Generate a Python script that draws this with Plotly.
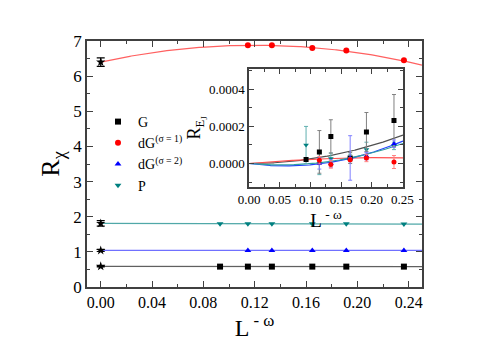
import numpy as np
import plotly.graph_objects as go

# ---------------- data ----------------
L_omega = [0.093, 0.1147, 0.1334, 0.1649, 0.1914, 0.2363]

G_main = [0.58, 0.58, 0.58, 0.58, 0.58, 0.58]
dG1_main = [6.88, 6.88, 6.80, 6.73, 6.45]          # at L_omega[1:]
dG2_main = [1.04, 1.04, 1.04, 1.04, 1.04]          # at L_omega[1:]
P_main = [1.80, 1.80, 1.80, 1.80, 1.80, 1.79]

# extrapolated values at L^-w = 0 (stars)
extrap_vals = [0.59, 6.40, 1.04, 1.81]
extrap_errs = [0.02, 0.12, 0.03, 0.08]

# fit coefficients (c0, c1, c2) of main curves
fit_G = [0.585, -0.02, 0.0]
fit_dG1 = [6.40, 8.0, -33.3]
fit_dG2 = [1.04, 0.0, 0.0]
fit_P = [1.81, -0.08, 0.0]

# inset
G_in = [0.0000214, 0.0000627, 0.000146, 0.00003, 0.00017, 0.000232]
G_in_err = [0.000005, 0.000115, 0.00009, 0.00003, 0.000105, 0.00014]
dG1_in = [0.000018, -0.000005, 0.00002, 0.00003, 0.000008]
dG1_in_err = [0.00002, 0.00002, 0.00001, 0.00002, 0.000035]
dG2_in = [0.0, 0.0, 0.00003, 0.00004, 0.000107]
dG2_in_err = [0.00003, 0.00002, 0.00012, 0.00002, 0.00002]
P_in = [0.0001, 0.0, 0.000027, 0.00003, 0.000075, 0.000095]
P_in_err = [0.0001, 0.00006, 0.00003, 0.00002, 0.00004, 0.00002]

fit_G_in = [0.0, 0.0, 0.00243]
fit_dG1_in = [0.0, 0.00029, -0.000664]
fit_dG2_in = [0.0, -0.000443, 0.00369]
fit_P_in = [0.0, -0.0003, 0.00291]

series_names = ["G", "dG<sup>(σ = 1)</sup>", "dG<sup>(σ = 2)</sup>", "P"]
colors = ["#000000", "#ff0000", "#0000ff", "#008080"]
line_colors = ["#606060", "#ff6060", "#7070ff", "#50a8a8"]
inset_line_colors = ["#505050", "#ff5050", "#2040ff", "#30a0a0"]
err_colors = ["#808080", "#ff8080", "#8080ff", "#60b0b0"]
symbols = ["square", "circle", "triangle-up", "triangle-down"]

FONT = "Liberation Serif, Times New Roman, serif"

fig = go.Figure()

xs_main = [L_omega, L_omega[1:], L_omega[1:], L_omega]
ys_main = [G_main, dG1_main, dG2_main, P_main]
fits_main = [fit_G, fit_dG1, fit_dG2, fit_P]
xx = np.linspace(0, 0.2504, 200)

# fit lines (main)
for i in range(4):
    c = fits_main[i]
    fig.add_trace(go.Scatter(x=xx, y=c[0] + c[1] * xx + c[2] * xx ** 2, mode="lines",
                             line=dict(color=line_colors[i], width=1.2),
                             showlegend=False, hoverinfo="skip"))
# data points (main)
for i in range(4):
    fig.add_trace(go.Scatter(x=xs_main[i], y=ys_main[i], mode="markers", name=series_names[i],
                             marker=dict(symbol=symbols[i], color=colors[i], size=6,
                                         line=dict(width=0))))
# stars
fig.add_trace(go.Scatter(x=[0, 0, 0, 0], y=extrap_vals, mode="markers",
                         marker=dict(symbol="star", color="black", size=7, line=dict(width=0)),
                         error_y=dict(type="data", array=extrap_errs, color="black",
                                      thickness=1.2, width=4),
                         showlegend=False))

# inset
xs_in = [L_omega, L_omega[1:], L_omega[1:], L_omega]
ys_in = [G_in, dG1_in, dG2_in, P_in]
errs_in = [G_in_err, dG1_in_err, dG2_in_err, P_in_err]
fits_in = [fit_G_in, fit_dG1_in, fit_dG2_in, fit_P_in]
xi = np.linspace(0, 0.251, 200)
for i in range(4):
    c = fits_in[i]
    fig.add_trace(go.Scatter(x=xi, y=c[0] + c[1] * xi + c[2] * xi ** 2, mode="lines",
                             line=dict(color=inset_line_colors[i], width=1.2),
                             xaxis="x2", yaxis="y2", showlegend=False, hoverinfo="skip"))
for i in [3, 0, 2, 1]:
    fig.add_trace(go.Scatter(x=xs_in[i], y=ys_in[i], mode="markers",
                             marker=dict(symbol=symbols[i], color=colors[i], size=5,
                                         line=dict(width=0)),
                             error_y=dict(type="data", array=errs_in[i], color=err_colors[i],
                                          thickness=1, width=2),
                             xaxis="x2", yaxis="y2", showlegend=False))

axis_common = dict(showline=True, linecolor="#404040", linewidth=1.5, mirror="allticks",
                   ticks="inside", tickcolor="#404040", showgrid=False, zeroline=False,
                   automargin=False)

# page body adds an 8px offset; target plot area: x 87..422, y 41..287 in window
OFF = 8
W, H = 491, 345
ml, mt = 87 - OFF, 41 - OFF
pw, ph = 335, 246
mr = W - ml - pw
mb = H - mt - ph

def px2fx(px):
    return (px - OFF - ml) / pw

def py2fy(py):
    return (mt + ph - (py - OFF)) / ph

fig.update_layout(
    width=W, height=H,
    margin=dict(l=ml, r=mr, t=mt, b=mb),
    paper_bgcolor="white", plot_bgcolor="white",
    font=dict(family=FONT, color="black"),
    showlegend=True,
    legend=dict(x=px2fx(98), y=py2fy(106), xanchor="left", yanchor="top",
                bgcolor="rgba(0,0,0,0)", font=dict(size=14, family=FONT),
                itemwidth=30, tracegroupgap=0),
    xaxis=dict(range=[-0.0107, 0.2504], tick0=0, dtick=0.04, tickformat=".2f",
               ticklen=6, tickfont=dict(size=16, family=FONT),
               minor=dict(ticks="inside", dtick=0.02, ticklen=3, tickcolor="#404040"),
               title=dict(text="L<sup> - ω</sup>", font=dict(size=24, family=FONT), standoff=6),
               **axis_common),
    yaxis=dict(range=[0, 7], dtick=1, ticklen=6, tickfont=dict(size=17, family=FONT),
               minor=dict(ticks="inside", dtick=0.5, ticklen=3, tickcolor="#404040"),
               title=dict(text="R<sub>χ</sub>", font=dict(size=26, family=FONT), standoff=6),
               **axis_common),
    xaxis2=dict(domain=[px2fx(249), px2fx(403)], anchor="y2", range=[0, 0.251],
                tick0=0, dtick=0.05, tickformat=".2f", ticklen=5,
                tickfont=dict(size=13, family=FONT),
                minor=dict(ticks="inside", dtick=0.025, ticklen=3, tickcolor="#404040"),
                title=dict(text="L<sup> - ω</sup>", font=dict(size=19, family=FONT), standoff=0),
                **axis_common),
    yaxis2=dict(domain=[py2fy(186.7), py2fy(69.3)], anchor="x2",
                range=[-0.000125, 0.000508], dtick=0.0002, tickformat=".4f",
                ticklen=5, tickfont=dict(size=13, family=FONT),
                minor=dict(ticks="inside", dtick=0.0001, ticklen=3, tickcolor="#404040"),
                title=dict(text="R<sub>E<sub>J</sub></sub>", font=dict(size=18, family=FONT),
                           standoff=2),
                **axis_common),
)

fig.write_html("out.html")
